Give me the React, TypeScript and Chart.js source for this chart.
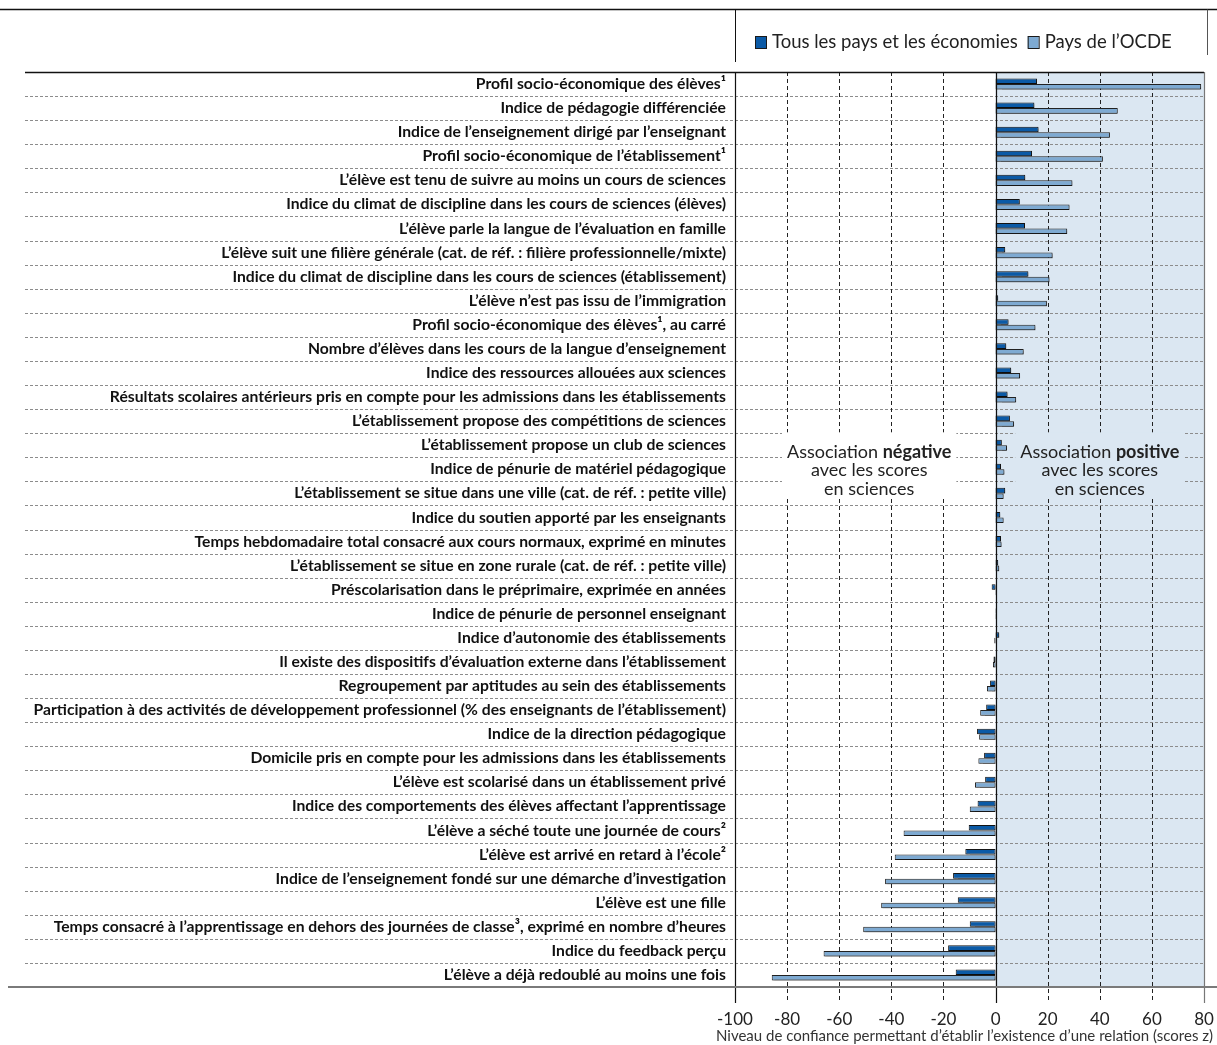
import { useEffect, useRef } from "react";
import { Chart, registerables } from "chart.js";

Chart.register(...registerables);

const categories = [
  "Profil socio-économique des élèves¹",
  "Indice de pédagogie différenciée",
  "Indice de l’enseignement dirigé par l’enseignant",
  "Profil socio-économique de l’établissement¹",
  "L’élève est tenu de suivre au moins un cours de sciences",
  "Indice du climat de discipline dans les cours de sciences (élèves)",
  "L’élève parle la langue de l’évaluation en famille",
  "L’élève suit une filière générale (cat. de réf. : filière professionnelle/mixte)",
  "Indice du climat de discipline dans les cours de sciences (établissement)",
  "L’élève n’est pas issu de l’immigration",
  "Profil socio-économique des élèves¹, au carré",
  "Nombre d’élèves dans les cours de la langue d’enseignement",
  "Indice des ressources allouées aux sciences",
  "Résultats scolaires antérieurs pris en compte pour les admissions dans les établissements",
  "L’établissement propose des compétitions de sciences",
  "L’établissement propose un club de sciences",
  "Indice de pénurie de matériel pédagogique",
  "L’établissement se situe dans une ville (cat. de réf. : petite ville)",
  "Indice du soutien apporté par les enseignants",
  "Temps hebdomadaire total consacré aux cours normaux, exprimé en minutes",
  "L’établissement se situe en zone rurale (cat. de réf. : petite ville)",
  "Préscolarisation dans le préprimaire, exprimée en années",
  "Indice de pénurie de personnel enseignant",
  "Indice d’autonomie des établissements",
  "Il existe des dispositifs d’évaluation externe dans l’établissement",
  "Regroupement par aptitudes au sein des établissements",
  "Participation à des activités de développement professionnel (% des enseignants de l’établissement)",
  "Indice de la direction pédagogique",
  "Domicile pris en compte pour les admissions dans les établissements",
  "L’élève est scolarisé dans un établissement privé",
  "Indice des comportements des élèves affectant l’apprentissage",
  "L’élève a séché toute une journée de cours²",
  "L’élève est arrivé en retard à l’école²",
  "Indice de l’enseignement fondé sur une démarche d’investigation",
  "L’élève est une fille",
  "Temps consacré à l’apprentissage en dehors des journées de classe³, exprimé en nombre d’heures",
  "Indice du feedback perçu",
  "L’élève a déjà redoublé au moins une fois",
];

const allCountries = [
  15.9, 14.9, 16.5, 14.0, 11.4, 9.3, 11.3, 3.7, 12.6, 1.0,
  5.0, 4.1, 6.0, 4.6, 5.5, 2.4, 2.1, 3.7, 1.8, 2.1,
  1.0, -1.5, 0.4, 1.4, -0.8, -2.1, -3.6, -7.1, -4.4, -4.0,
  -6.9, -10.3, -11.6, -16.3, -14.5, -9.9, -18.2, -15.3,
];

const oecdCountries = [
  78.9, 46.9, 43.9, 41.2, 29.5, 28.4, 27.5, 21.9, 20.7, 19.7,
  15.3, 10.8, 9.4, 7.9, 7.1, 4.4, 3.4, 3.1, 3.1, 2.3,
  1.4, 0.4, 0.2, -0.5, -1.0, -3.3, -5.9, -6.3, -6.6, -7.9,
  -9.9, -35.3, -38.7, -42.4, -43.9, -50.8, -66.0, -85.9,
];

const seriesNames = ["Tous les pays et les économies", "Pays de l’OCDE"];
const xTicks = [-100, -80, -60, -40, -20, 0, 20, 40, 60, 80];
const axisTitle = "Niveau de confiance permettant d’établir l’existence d’une relation (scores z)";
const negativeNote = ["Association ", "négative", "avec les scores", "en sciences"];
const positiveNote = ["Association ", "positive", "avec les scores", "en sciences"];

const DARK = "#0b5aa6";
const LIGHT = "#7eaad2";
const BLUE_BG = "#dbe7f2";
const FONT = "Lato, 'Open Sans', sans-serif";

function line(ctx: CanvasRenderingContext2D, x1: number, y1: number, x2: number, y2: number) {
  ctx.beginPath();
  ctx.moveTo(x1, y1);
  ctx.lineTo(x2, y2);
  ctx.stroke();
}

function drawNote(
  ctx: CanvasRenderingContext2D,
  cx: number,
  mid: number,
  note: string[],
  bg: string
) {
  ctx.save();
  const reg = `18px ${FONT}`;
  const bold = `bold 18px ${FONT}`;
  ctx.font = reg;
  const w1 = ctx.measureText(note[0]).width;
  ctx.font = bold;
  const w2 = ctx.measureText(note[1]).width;
  const total = w1 + w2;
  const half = total / 2 + 5;
  ctx.fillStyle = bg;
  ctx.fillRect(cx - half, mid - 38, half * 2, 66);
  ctx.fillStyle = "#222";
  ctx.textBaseline = "middle";
  ctx.textAlign = "left";
  ctx.font = reg;
  ctx.fillText(note[0], cx - total / 2, mid - 18.5);
  ctx.font = bold;
  ctx.fillText(note[1], cx - total / 2 + w1, mid - 18.5);
  ctx.font = reg;
  ctx.textAlign = "center";
  ctx.fillText(note[2], cx, mid);
  ctx.fillText(note[3], cx, mid + 18.5);
  ctx.restore();
}

const decorPlugin = {
  id: "decor",
  beforeDatasetsDraw(chart: any) {
    const { ctx, chartArea: a, scales } = chart;
    const x = scales.x;
    const y = scales.y;
    const x0 = x.getPixelForValue(0);
    ctx.save();
    ctx.fillStyle = BLUE_BG;
    ctx.fillRect(x0, a.top, a.right - x0, a.bottom - a.top);

    // row separators
    ctx.strokeStyle = "#8c8c8c";
    ctx.lineWidth = 1;
    ctx.setLineDash([3, 2]);
    for (let i = 1; i < categories.length; i++) {
      const yy = Math.round((y.getPixelForValue(i - 1) + y.getPixelForValue(i)) / 2) + 0.5;
      line(ctx, 25, yy, a.right, yy);
    }
    // vertical dashed grid
    ctx.strokeStyle = "#222";
    ctx.setLineDash([4, 3]);
    for (const v of xTicks) {
      if (v === 0 || v === xTicks[0] || v === xTicks[xTicks.length - 1]) continue;
      const xx = Math.round(x.getPixelForValue(v)) + 0.5;
      line(ctx, xx, a.top, xx, a.bottom + 16);
    }
    ctx.setLineDash([]);

    const mid = y.getPixelForValue(16) + 1;
    drawNote(ctx, x.getPixelForValue(-48.5), mid, negativeNote, "#ffffff");
    drawNote(ctx, x.getPixelForValue(40), mid, positiveNote, BLUE_BG);
    ctx.restore();

    // shadow for bars
    ctx.save();
    ctx.shadowColor = "rgba(0,0,0,0.35)";
    ctx.shadowOffsetX = 1.5;
    ctx.shadowOffsetY = 1.5;
    ctx.shadowBlur = 1.5;
  },
  afterDatasetsDraw(chart: any) {
    const { ctx, chartArea: a, scales, width } = chart;
    ctx.restore();
    const x = scales.x;
    ctx.save();
    ctx.setLineDash([]);
    // top plot line
    ctx.strokeStyle = "#111";
    ctx.lineWidth = 1.5;
    line(ctx, 25, a.top + 0.5, a.right, a.top + 0.5);
    // left border & zero line
    ctx.lineWidth = 1.2;
    const xl = Math.round(x.getPixelForValue(xTicks[0])) + 0.5;
    const xz = Math.round(x.getPixelForValue(0)) + 0.5;
    line(ctx, xl, a.top, xl, a.bottom + 16);
    line(ctx, xz, a.top, xz, a.bottom + 16);
    // right border
    ctx.strokeStyle = "#777";
    const xr = Math.round(x.getPixelForValue(xTicks[xTicks.length - 1])) + 0.5;
    line(ctx, xr, a.top, xr, a.bottom + 16);
    // bottom axis line
    ctx.strokeStyle = "#7a7a7a";
    ctx.lineWidth = 2;
    line(ctx, 8, a.bottom, width, a.bottom);

    // top frame
    ctx.strokeStyle = "#111";
    ctx.lineWidth = 1.5;
    line(ctx, 0, 9.5, width, 9.5);
    ctx.lineWidth = 1;
    line(ctx, xl, 9.5, xl, 62);
    ctx.strokeStyle = "#555";
    line(ctx, 1207.5, 9.5, 1207.5, 55);

    // legend
    const colors = [DARK, LIGHT];
    ctx.font = `18.5px ${FONT}`;
    ctx.textBaseline = "middle";
    ctx.textAlign = "left";
    let lx = 755;
    const ly = 42;
    for (let i = 0; i < seriesNames.length; i++) {
      ctx.fillStyle = colors[i];
      ctx.fillRect(lx, ly - 6, 11, 12);
      ctx.strokeStyle = "#1a1a1a";
      ctx.lineWidth = 1;
      ctx.strokeRect(lx + 0.5, ly - 5.5, 11, 12);
      ctx.fillStyle = "#222";
      ctx.fillText(seriesNames[i], lx + 17, ly);
      lx += 17 + ctx.measureText(seriesNames[i]).width + 10;
    }

    // axis title
    ctx.font = `15px ${FONT}`;
    ctx.textAlign = "right";
    ctx.fillStyle = "#333";
    ctx.fillText(axisTitle, 1213, 1036);
    ctx.restore();
  },
};

export default function App() {
  const ref = useRef<HTMLCanvasElement | null>(null);
  useEffect(() => {
    if (!ref.current) return;
    const chart = new Chart(ref.current, {
      type: "bar",
      data: {
        labels: categories,
        datasets: [
          {
            label: seriesNames[0],
            data: allCountries,
            backgroundColor: DARK,
            borderColor: "#141414",
            borderWidth: 1,
            borderSkipped: false,
            categoryPercentage: 0.46,
            barPercentage: 1,
          },
          {
            label: seriesNames[1],
            data: oecdCountries,
            backgroundColor: LIGHT,
            borderColor: "#222",
            borderWidth: 1,
            borderSkipped: false,
            categoryPercentage: 0.46,
            barPercentage: 1,
          },
        ],
      },
      options: {
        indexAxis: "y",
        animation: false,
        responsive: false,
        maintainAspectRatio: false,
        layout: { padding: { top: 72, right: 13, bottom: 0, left: 0 } },
        plugins: {
          legend: { display: false },
          tooltip: { enabled: false },
          title: { display: false },
        },
        scales: {
          x: {
            type: "linear",
            min: xTicks[0],
            max: xTicks[xTicks.length - 1],
            afterBuildTicks: (s: any) => {
              s.ticks = xTicks.map((v) => ({ value: v }));
            },
            afterFit: (s: any) => {
              s.height = 58;
              s.paddingLeft = 0;
              s.paddingRight = 0;
            },
            grid: { display: false, drawTicks: false },
            border: { display: false },
            ticks: {
              autoSkip: false,
              maxRotation: 0,
              padding: 22,
              color: "#222",
              font: { family: FONT, size: 17 },
              callback: (v: any) => String(v),
            },
          },
          y: {
            type: "category",
            afterFit: (s: any) => {
              s.width = 735;
              s.paddingTop = 0;
              s.paddingBottom = 0;
            },
            grid: { display: false, drawTicks: false },
            border: { display: false },
            ticks: {
              autoSkip: false,
              padding: 9,
              color: "#111",
              font: { family: FONT, size: 15.7, weight: "bold" },
            },
          },
        },
      },
      plugins: [decorPlugin],
    } as any);
    return () => chart.destroy();
  }, []);
  return (
    <div style={{ position: "absolute", left: 0, top: 0, width: 1217, height: 1045 }}>
      <canvas ref={ref} width={1217} height={1045} style={{ width: 1217, height: 1045, display: "block" }} />
    </div>
  );
}
